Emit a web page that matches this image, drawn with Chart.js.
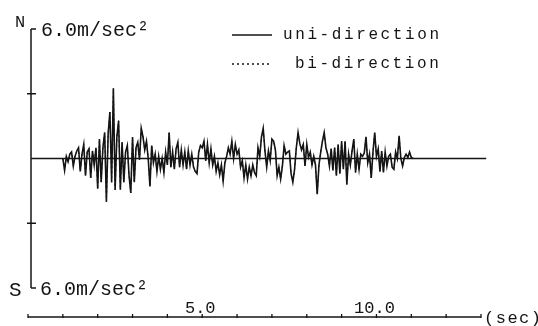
<!doctype html>
<html lang="en">
<head>
    <meta charset="UTF-8">
    <title>Acceleration record</title>
    <script src="https://cdn.jsdelivr.net/npm/chart.js"></script>
    <style>
        body { margin: 0; background: #fff; }
    </style>
</head>
<body>
    <canvas id="accChart" width="538" height="326"></canvas>

    <script>
        // time axis: first sample at 1.0 sec, one sample every 0.05 sec
        const startTime = 1.0;
        const step = 0.05;

        // acceleration (m/sec2), + = N, - = S, read from the record
        const uniDirection = [
            0, -0.55, 0.1, -0.15, 0.2, 0.3, -0.35, 0.1, 0.35, 0.5,
            -0.6, 0.2, 0.65, -0.8, 0.3, 0.45, -0.9, 0.35, -0.3, 0.5,
            -1.4, 0.9, -1.1, 0.5, 1.2, -2.0, 1.15, 2.15, -1.1, 3.25,
            -1.45, 1.0, 1.75, -1.45, 0.75, -1.1, 0.3, 0.6, -0.8,
            -1.6, 1.0, -1.1, 0.5, 0.75, -0.05, 1.4, 1.0, 0.4, 0.8,
            0.0, -1.3, 0.6, -0.2, 0.2, -0.6, 0.1, -0.5, 0.0, -0.65,
            0.3, -0.3, 1.2, -0.4, 0.3, -0.5, 0.45, 0.75, -0.4, 0.4,
            -0.3, 0.3, -0.5, 0.35, -0.3, 0.2, -0.4, -0.6, -0.7, 0.3, 0.6,
            0.5, 0.8, -0.1, 0.65, -0.2, 0.45, -0.3, 0.1, -0.6, -0.2,
            -0.75, -0.3, -1.05, -0.2, 0.1, 0.5, 0.2, 0.8, 0.0, 0.65,
            0.2, 0.4, -0.4, -0.1, -0.9, -0.3, -0.95, -0.4, -0.8, -0.3,
            -0.65, -0.8, 0.5, 0.1, 1.0, 1.4, 0.35, -0.4, 0.35, -0.1, 0.9, 0.8,
            0.4, -0.8, -0.4, -0.95, -0.35, 0.6, 0.2, 0.3, 0.35, -0.7,
            -1.1, -0.5, 0.5, 1.2, 0.7, 0.4, 0.65, -0.35, 0.65, 0.05,
            0.3, -0.3, 0.1, -0.3, -1.65, -0.3, 0.3, 0.8, 1.2, 0.5,
            0.2, -0.35, 0.45, -0.55, 0.5, -0.8, 0.65, -0.7, 0.8, -0.5, 0.8,
            -1.2, 0.2, -0.3, 0.35, 0.9, -0.65, 0.2, -0.5, 0.2, 0.1,
            0.25, 1.0, -0.2, 0.2, -0.9, 0.3, 1.2, 0.1, 0.45, -0.6,
            0.35, -0.65, 0.3, -0.35, 0.1, 0.2, -0.4, -0.5, 0.3, 0.0,
            1.05, 0.0, -0.35, 0.05, 0.2, 0.05, 0.3, 0.05, 0
        ];
        // the dotted trace lies on top of the solid one in the record
        const biDirection = uniDirection;

        // zero line across the whole plot
        const zeroTimes = [0.09, 13.15];
        const zeroValues = [0, 0];

        const yTicks = [-6, -3, 3, 6];
        const xTicks = [0, 1, 2, 3, 4, 5, 6, 7, 8, 9, 10, 11, 12, 13];
        const xLabels = [5, 10];

        const points = vals => vals.map((v, i) => ({ x: startTime + i * step, y: v }));

        const ink = '#141414';
        const mono = '"Liberation Mono", "DejaVu Sans Mono", monospace';

        const drawAxes = {
            id: 'drawAxes',
            afterDraw(chart) {
                const { ctx, chartArea: a, scales: { x, y } } = chart;
                ctx.save();
                ctx.strokeStyle = ink;
                ctx.fillStyle = ink;
                ctx.lineWidth = 1.5;

                const seg = (x1, y1, x2, y2) => {
                    ctx.beginPath();
                    ctx.moveTo(x1, y1);
                    ctx.lineTo(x2, y2);
                    ctx.stroke();
                };

                // vertical axis
                const ax = a.left + 3;
                seg(ax, y.getPixelForValue(6), ax, y.getPixelForValue(-6));
                yTicks.forEach(v => {
                    const py = y.getPixelForValue(v);
                    if (Math.abs(v) === 6) seg(ax, py, ax + 5, py);
                    else seg(ax - 4, py, ax + 5, py);
                });

                ctx.font = '20px ' + mono;
                ctx.textAlign = 'left';
                ctx.textBaseline = 'middle';
                ctx.fillText('6.0m/sec\u00b2', ax + 10, y.getPixelForValue(6) + 2);
                ctx.fillText('6.0m/sec\u00b2', ax + 9, y.getPixelForValue(-6) + 2);
                ctx.font = '17px ' + mono;
                ctx.textBaseline = 'alphabetic';
                ctx.fillText('N', ax - 16, y.getPixelForValue(6) - 2);
                ctx.font = '21px ' + mono;
                ctx.textBaseline = 'middle';
                ctx.fillText('S', ax - 22, y.getPixelForValue(-6) + 2);

                // time axis, drawn below the plot
                const xb = a.bottom + 29;
                ctx.lineWidth = 1.3;
                seg(x.getPixelForValue(xTicks[0]), xb, x.getPixelForValue(xTicks[xTicks.length - 1]), xb);
                xTicks.forEach(t => {
                    const px = x.getPixelForValue(t);
                    seg(px, xb - 3, px, xb + 1);
                });
                ctx.font = '17px ' + mono;
                ctx.textAlign = 'center';
                ctx.textBaseline = 'alphabetic';
                xLabels.forEach(t => {
                    ctx.fillText(t.toFixed(1), x.getPixelForValue(t) - 2, xb - 4);
                });
                ctx.textAlign = 'left';
                ctx.textBaseline = 'middle';
                ctx.letterSpacing = '1.5px';
                ctx.fillText('(sec)', x.getPixelForValue(13) + 3, xb + 1);

                // legend
                ctx.letterSpacing = '2.6px';
                ctx.font = '16px ' + mono;
                const rows = [35, 64];
                chart.data.datasets.slice(0, 2).forEach((ds, i) => {
                    ctx.lineWidth = 1.4;
                    ctx.setLineDash(ds.borderDash || []);
                    seg(232, rows[i], 272, rows[i]);
                    ctx.setLineDash([]);
                    ctx.fillText(ds.label, i === 0 ? 283 : 295, rows[i]);
                });
                ctx.restore();
            }
        };

        new Chart(document.getElementById('accChart').getContext('2d'), {
            type: 'line',
            data: {
                datasets: [
                    {
                        label: 'uni-direction',
                        data: points(uniDirection),
                        borderColor: ink,
                        borderWidth: 1.6,
                        pointRadius: 0,
                        tension: 0
                    },
                    {
                        label: 'bi-direction',
                        data: points(biDirection),
                        borderColor: ink,
                        borderWidth: 1,
                        borderDash: [2, 3],
                        pointRadius: 0,
                        tension: 0
                    },
                    {
                        label: 'zero',
                        data: zeroTimes.map((t, i) => ({ x: t, y: zeroValues[i] })),
                        borderColor: ink,
                        borderWidth: 1.5,
                        pointRadius: 0,
                        clip: false
                    }
                ]
            },
            options: {
                responsive: false,
                animation: false,
                layout: { padding: { left: 28, right: 57, top: 29, bottom: 38 } },
                scales: {
                    x: { type: 'linear', min: 0, max: 13, display: false },
                    y: { min: -6, max: 6, display: false }
                },
                plugins: {
                    legend: { display: false },
                    tooltip: { enabled: false }
                }
            },
            plugins: [drawAxes]
        });
    </script>
</body>
</html>
